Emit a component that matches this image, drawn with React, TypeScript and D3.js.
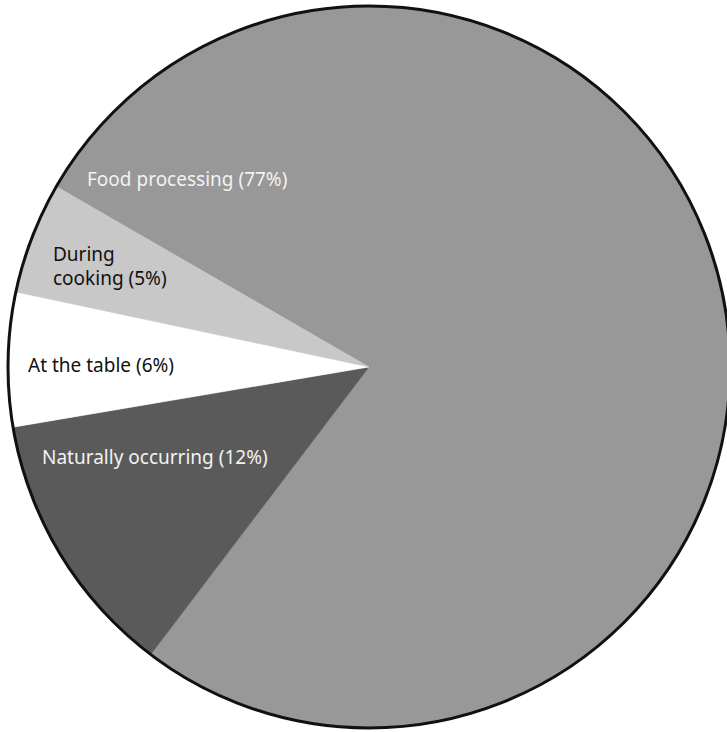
import React from "react";
import * as d3 from "d3";

const categories = ["Food processing", "Naturally occurring", "At the table", "During cooking"];
const values = [77, 12, 6, 5];
const colors = ["#989898", "#5a5a5a", "#ffffff", "#c8c8c8"];
const textColors = ["#f2f2f2", "#f2f2f2", "#111111", "#111111"];
const labelLines = [
  ["Food processing (77%)"],
  ["Naturally occurring (12%)"],
  ["At the table (6%)"],
  ["During", "cooking (5%)"],
];
// label anchor (left x, first baseline y) in px
const labelPos: [number, number][] = [
  [87, 186],
  [42, 464],
  [28, 372],
  [53, 261],
];

const W = 727;
const H = 732;
const cx = 369;
const cy = 367;
const R = 361;

export default function App() {
  const pie = d3
    .pie<number>()
    .sort(null)
    .startAngle((-60 * Math.PI) / 180)
    .endAngle((300 * Math.PI) / 180);
  const arcs = pie(values);
  const arc = d3.arc<d3.PieArcDatum<number>>().innerRadius(0).outerRadius(R);
  return (
    <svg
      width={W}
      height={H}
      style={{ position: "absolute", left: 0, top: 0, background: "#fff" }}
    >
      <g transform={`translate(${cx},${cy})`}>
        {arcs.map((a, i) => (
          <path key={categories[i]} d={arc(a) || ""} fill={colors[i]} stroke={colors[i]} strokeWidth={0.5} />
        ))}
        <circle r={R} fill="none" stroke="#111" strokeWidth={3} />
      </g>
      {labelLines.map((lines, i) => (
        <text
          key={categories[i]}
          x={labelPos[i][0]}
          y={labelPos[i][1]}
          fill={textColors[i]}
          fontFamily="'Noto Sans', sans-serif"
          fontSize={19}
        >
          {lines.map((l, j) => (
            <tspan key={j} x={labelPos[i][0]} dy={j === 0 ? 0 : 24}>
              {l}
            </tspan>
          ))}
        </text>
      ))}
    </svg>
  );
}
